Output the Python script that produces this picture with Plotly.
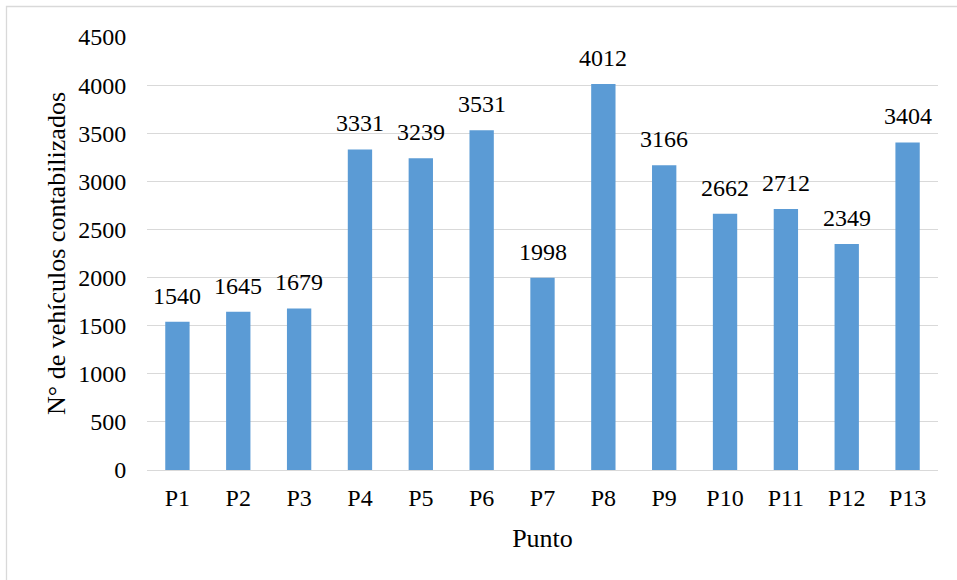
import plotly.graph_objects as go

# Vehicle counts per survey point
puntos = ["P1", "P2", "P3", "P4", "P5", "P6", "P7", "P8", "P9", "P10", "P11", "P12", "P13"]
vehiculos = [1540, 1645, 1679, 3331, 3239, 3531, 1998, 4012, 3166, 2662, 2712, 2349, 3404]
y_ticks = [0, 500, 1000, 1500, 2000, 2500, 3000, 3500, 4000, 4500]

FONT = "Liberation Serif, Times New Roman, serif"

fig = go.Figure(
    go.Bar(
        x=puntos,
        y=vehiculos,
        marker=dict(color="#5B9BD5", line=dict(width=0)),
        cliponaxis=False,
    )
)

# Value labels sitting above each bar
for p, v in zip(puntos, vehiculos):
    fig.add_annotation(
        x=p,
        y=v,
        text=str(v),
        showarrow=False,
        xanchor="center",
        yanchor="bottom",
        yshift=11,
        font=dict(family=FONT, size=24, color="#000000"),
    )

L, R, T, B = 147, 19, 37, 110
W, H = 957, 580
pw, ph = W - L - R, H - T - B

fig.update_layout(
    width=W,
    height=H,
    margin=dict(l=L, r=R, t=T, b=B, pad=0),
    paper_bgcolor="white",
    plot_bgcolor="white",
    bargap=0.6,
    showlegend=False,
    font=dict(family=FONT, size=24, color="#000000"),
    xaxis=dict(
        showgrid=False,
        showline=False,
        ticks="outside",
        ticklen=6,
        tickcolor="rgba(0,0,0,0)",
        tickfont=dict(family=FONT, size=24),
        title=dict(text="Punto", font=dict(family=FONT, size=26), standoff=19),
    ),
    yaxis=dict(
        range=[0, 4500],
        tickvals=y_ticks,
        showgrid=True,
        gridcolor="#D9D9D9",
        gridwidth=1.3,
        zeroline=True,
        zerolinecolor="#D9D9D9",
        zerolinewidth=1.3,
        showline=False,
        ticks="outside",
        ticklen=15,
        tickcolor="rgba(0,0,0,0)",
        tickfont=dict(family=FONT, size=24),
        title=dict(text="N° de vehículos contabilizados", font=dict(family=FONT, size=26), standoff=5),
    ),
    shapes=[
        dict(
            type="rect",
            xref="paper",
            yref="paper",
            x0=(6.5 - L) / pw,
            x1=(W + 5 - L) / pw,
            y0=-(B + 5) / ph,
            y1=(H - B - 6.5) / ph,
            line=dict(color="#D9D9D9", width=1.3),
            fillcolor="rgba(0,0,0,0)",
            layer="below",
        )
    ],
)

fig.write_html("out.html")
